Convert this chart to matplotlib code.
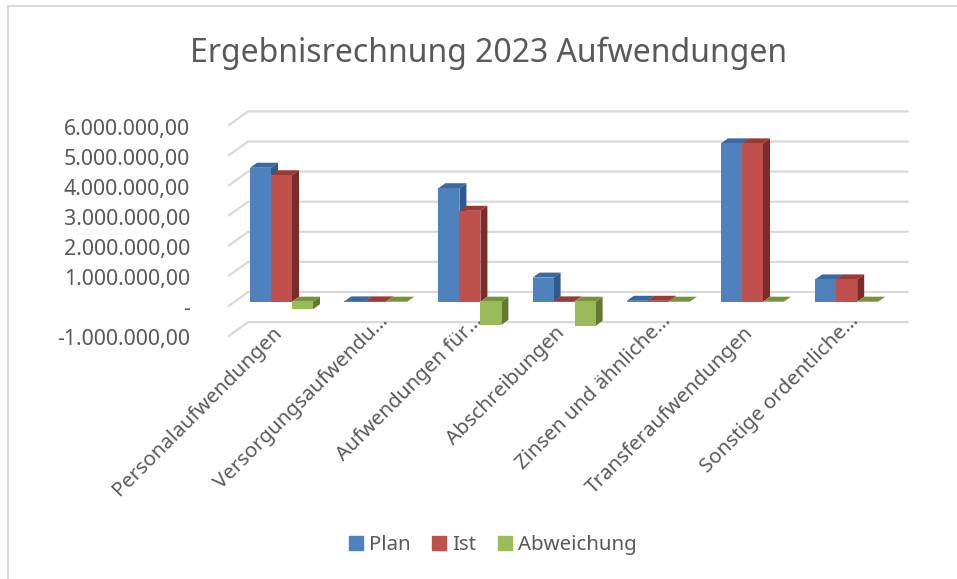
import matplotlib
matplotlib.use("Agg")
import matplotlib.pyplot as plt
from matplotlib.patches import Polygon, Patch
from matplotlib.transforms import ScaledTranslation

categories = ["Personalaufwendungen", "Versorgungsaufwendu…", "Aufwendungen für…", "Abschreibungen",
              "Zinsen und ähnliche…", "Transferaufwendungen", "Sonstige ordentliche…"]
plan = [4450000, 10000, 3770000, 800000, 30000, 5260000, 740000]
ist = [4200000, 10000, 3020000, 10000, 30000, 5260000, 740000]
abweichung = [-250000, 0, -770000, -800000, 0, 0, 0]
yticks = [-1000000, 0, 1000000, 2000000, 3000000, 4000000, 5000000, 6000000]
yticklabels = ["-1.000.000,00", "-", "1.000.000,00", "2.000.000,00", "3.000.000,00",
               "4.000.000,00", "5.000.000,00", "6.000.000,00"]

W, H = 957, 579
plt.rcParams["font.family"] = ["Noto Sans", "DejaVu Sans"]
TEXT = "#595959"
GRID = "#d9d9d9"

fig = plt.figure(figsize=(W / 100, H / 100), dpi=100)
# Achse liegt in der Ebene der Balkenfront
left, right, top, bottom = 234.4, 893.8, 121.1, 331.8
ax = fig.add_axes([left / W, 1 - bottom / H, (right - left) / W, (bottom - top) / H])
ax.set_xlim(-0.5, 6.5)
ax.set_ylim(-1000000, 6000000)
ax.patch.set_visible(False)
for s in ax.spines.values():
    s.set_visible(False)

# Pixel in Datenwerte umrechnen
px_x = 7 / (right - left)
px_y = 7000000 / (bottom - top)

# Rahmen
fig.add_artist(plt.Rectangle((8 / W, -0.1), 1.2, 1.1 - 6 / H, transform=fig.transFigure,
                             fill=False, ec="#d9d9d9", lw=1.5))

# Gitter mit schraeger Seitenwand
back_dx, back_dy = 13.7 * px_x, 9.7 * px_y
front_dx, front_dy = -5.3 * px_x, -3.9 * px_y
for v in yticks:
    ax.plot([-0.5 + front_dx, -0.5 + back_dx, 6.5 + back_dx], [v + front_dy, v + back_dy, v + back_dy],
            color=GRID, lw=1.6, zorder=1, clip_on=False, solid_joinstyle="round")

# Balken mit Tiefe
series = [
    (plan, "#4f81bd", "#2f5a8f", "#3a689f"),
    (ist, "#c0504d", "#7c2b29", "#9a3a37"),
    (abweichung, "#9bbb59", "#63792f", "#76923c"),
]
bw = 21 / 94.2
depth_x, depth_y = 7 * px_x, 5 * px_y
z = 2
for i in range(len(categories)):
    for k, (vals, front, side, topc) in enumerate(series):
        x0 = i + (k - 1.5) * bw
        x1 = x0 + bw
        v = vals[i]
        hi, lo = max(v, 0), min(v, 0)
        ax.add_patch(Polygon([(x1, lo), (x1 + depth_x, lo + depth_y), (x1 + depth_x, hi + depth_y), (x1, hi)],
                             fc=side, ec="none", zorder=z, clip_on=False))
        ax.add_patch(Polygon([(x0, hi), (x0 + depth_x, hi + depth_y), (x1 + depth_x, hi + depth_y), (x1, hi)],
                             fc=topc, ec="none", zorder=z + 0.1, clip_on=False))
        ax.bar(x0, hi - lo, bottom=lo, width=bw, align="edge", color=front, zorder=z + 0.2, clip_on=False)
        z += 1

# Achsen
ax.set_yticks(yticks)
ax.set_yticklabels(yticklabels, fontsize=15.4, color=TEXT)
ax.tick_params(axis="y", length=0, pad=32)
shift = ScaledTranslation(0, -5.4 / 100, fig.dpi_scale_trans)
for lab in ax.get_yticklabels():
    lab.set_transform(lab.get_transform() + shift)

ax.set_xticks(range(len(categories)))
ax.set_xticklabels(categories, rotation=45, ha="right", rotation_mode="anchor", fontsize=14.8, color=TEXT)
ax.tick_params(axis="x", length=0, pad=0)
for lab, name in zip(ax.get_xticklabels(), categories):
    # gekuerzte Beschriftungen sitzen naeher an der Achse
    extra = 12 if name.endswith("…") else 0
    xshift = ScaledTranslation((-9.5 + extra) / 100, (8.5 + extra) / 100, fig.dpi_scale_trans)
    lab.set_transform(lab.get_transform() + xshift)

fig.text(488.5 / W, 1 - 53 / H, "Ergebnisrechnung 2023 Aufwendungen", ha="center", va="center",
         fontsize=23, color=TEXT)

handles = [Patch(color=s[1]) for s in series]
fig.legend(handles, ["Plan", "Ist", "Abweichung"], loc="center", bbox_to_anchor=(493 / W, 1 - 545 / H),
           ncol=3, frameon=False, fontsize=14.7, labelcolor=TEXT, handlelength=0.68, handleheight=0.68,
           handletextpad=0.3, columnspacing=1.05)

fig.savefig("out.png", dpi=100)
